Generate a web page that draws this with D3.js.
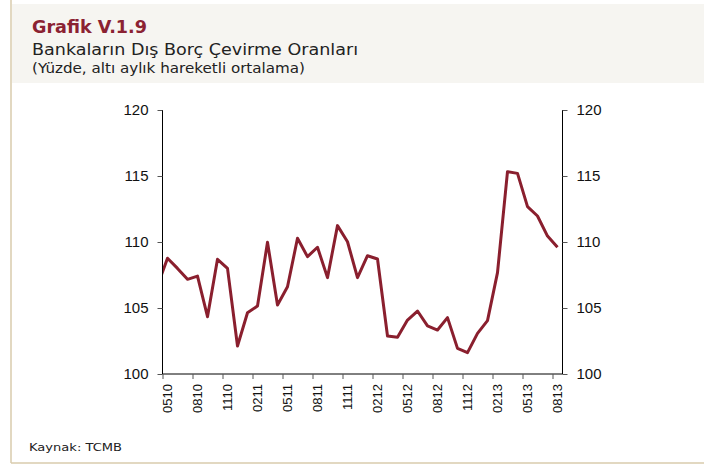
<!DOCTYPE html>
<html>
<head>
<meta charset="utf-8">
<script src="https://cdn.jsdelivr.net/npm/d3@7"></script>
<style>
  html, body { margin: 0; padding: 0; background: #ffffff; }
  svg { display: block; }
</style>
</head>
<body>
<div id="chart"></div>
<script>
// ---- data (monthly, MMYY) ----
const months = ["0410","0510","0610","0710","0810","0910","1010","1110","1210",
  "0111","0211","0311","0411","0511","0611","0711","0811","0911","1011","1111","1211",
  "0112","0212","0312","0412","0512","0612","0712","0812","0912","1012","1112","1212",
  "0113","0213","0313","0413","0513","0613","0713","0813"];
const values = [106.7, 108.77, 108.0, 107.17, 107.42, 104.34, 108.69, 108.0, 102.12,
  104.64, 105.15, 109.98, 105.23, 106.61, 110.28, 108.89, 109.6, 107.3, 111.24, 110.02, 107.3,
  108.96, 108.71, 102.88, 102.78, 104.09, 104.77, 103.64, 103.33, 104.27, 101.94, 101.62, 103.08,
  104.04, 107.68, 115.33, 115.2, 112.68, 111.97, 110.45, 109.6];
const xTickLabels = ["0510","0810","1110","0211","0511","0811","1111","0212","0512","0812","1112","0213","0513","0813"];
const yTicks = [100, 105, 110, 115, 120];
const firstVisible = "0510";
const lastVisible = "0813";

const titleText = "Grafik V.1.9";
const subtitleText = "Bankaların Dış Borç Çevirme Oranları";
const noteText = "(Yüzde, altı aylık hareketli ortalama)";
const sourceText = "Kaynak: TCMB";

// ---- layout ----
const W = 704, H = 468;
const plot = { left: 162.5, right: 562.5, top: 110, bottom: 374 };
const lineColor = "#8a1f2e";

const svg = d3.select("#chart").append("svg").attr("width", W).attr("height", H);

// frame / header
svg.append("rect").attr("x", 0).attr("y", 0).attr("width", W).attr("height", H).attr("fill", "#ffffff");
svg.append("rect").attr("x", 12).attr("y", 4).attr("width", W - 12).attr("height", 79).attr("fill", "#f6f5f1");
svg.append("line").attr("x1", 11).attr("x2", 11).attr("y1", 0).attr("y2", 463)
  .attr("stroke", "#d9cbad").attr("stroke-width", 1.5);
svg.append("line").attr("x1", 11).attr("x2", W).attr("y1", 463).attr("y2", 463)
  .attr("stroke", "#d9cbad").attr("stroke-width", 1.5);

const hdrFont = "'DejaVu Sans', 'Open Sans', sans-serif";
svg.append("text").attr("x", 32).attr("y", 33).text(titleText)
  .attr("font-family", hdrFont).attr("font-weight", "bold").attr("font-size", 18)
  .attr("fill", "#8b2232").attr("textLength", 115).attr("lengthAdjust", "spacingAndGlyphs");
svg.append("text").attr("x", 32).attr("y", 55).text(subtitleText)
  .attr("font-family", hdrFont).attr("font-size", 16)
  .attr("fill", "#222").attr("textLength", 326).attr("lengthAdjust", "spacingAndGlyphs");
svg.append("text").attr("x", 32).attr("y", 73).text(noteText)
  .attr("font-family", hdrFont).attr("font-size", 13.5)
  .attr("fill", "#222").attr("textLength", 273).attr("lengthAdjust", "spacingAndGlyphs");
svg.append("text").attr("x", 29).attr("y", 451).text(sourceText)
  .attr("font-family", hdrFont).attr("font-size", 11)
  .attr("fill", "#222").attr("textLength", 93).attr("lengthAdjust", "spacingAndGlyphs");

// ---- scales ----
const i0 = months.indexOf(firstVisible), i1 = months.indexOf(lastVisible);
const x = d3.scaleLinear().domain([i0 - 0.5, i1 + 0.5]).range([plot.left, plot.right]);
const y = d3.scaleLinear().domain([100, 120]).range([plot.bottom, plot.top]);

const axisFont = "'Liberation Sans', Arial, sans-serif";

// clip
svg.append("clipPath").attr("id", "clip").append("rect")
  .attr("x", plot.left).attr("y", plot.top - 10)
  .attr("width", plot.right - plot.left).attr("height", plot.bottom - plot.top + 10);

// line
const data = months.map((m, i) => ({ m, i, v: values[i] }));
svg.append("path").datum(data)
  .attr("clip-path", "url(#clip)")
  .attr("fill", "none").attr("stroke", lineColor).attr("stroke-width", 3)
  .attr("stroke-linejoin", "round")
  .attr("d", d3.line().x(d => x(d.i)).y(d => y(d.v)));

// y axes
const yAxisL = d3.axisLeft(y).tickValues(yTicks).tickSize(5).tickPadding(9).tickFormat(d3.format("d"));
const gL = svg.append("g").attr("transform", `translate(${plot.left},0)`).call(yAxisL);
const yAxisR = d3.axisRight(y).tickValues(yTicks).tickSize(5).tickPadding(9).tickFormat(d3.format("d"));
const gR = svg.append("g").attr("transform", `translate(${plot.right},0)`).call(yAxisR);
[gL, gR].forEach(g => {
  g.select(".domain").attr("stroke", "#000").attr("d",
    g === gL ? `M0,${plot.top}V${plot.bottom}` : `M0,${plot.top}V${plot.bottom}`);
  g.selectAll(".tick line").attr("stroke", "#555");
  g.selectAll("text").attr("font-family", axisFont).attr("font-size", 15).attr("fill", "#111");
});

// x axis: ticks at band starts, labels at band centres
const tickIdx = xTickLabels.map(l => months.indexOf(l));
const xAxis = d3.axisBottom(x).tickValues(tickIdx.map(i => i - 0.5)).tickSize(5).tickFormat("");
const gX = svg.append("g").attr("transform", `translate(0,${plot.bottom})`).call(xAxis);
gX.select(".domain").attr("stroke", "#000").attr("d", `M${plot.left},0H${plot.right}`);
gX.selectAll(".tick line").attr("stroke", "#555");
gX.selectAll(".xlab").data(xTickLabels).enter().append("text")
  .attr("class", "xlab")
  .attr("transform", d => `translate(${x(months.indexOf(d))},10) rotate(-90)`)
  .attr("text-anchor", "end").attr("dy", "0.35em")
  .attr("font-family", axisFont).attr("font-size", 13).attr("fill", "#111")
  .text(d => d);
</script>
</body>
</html>
